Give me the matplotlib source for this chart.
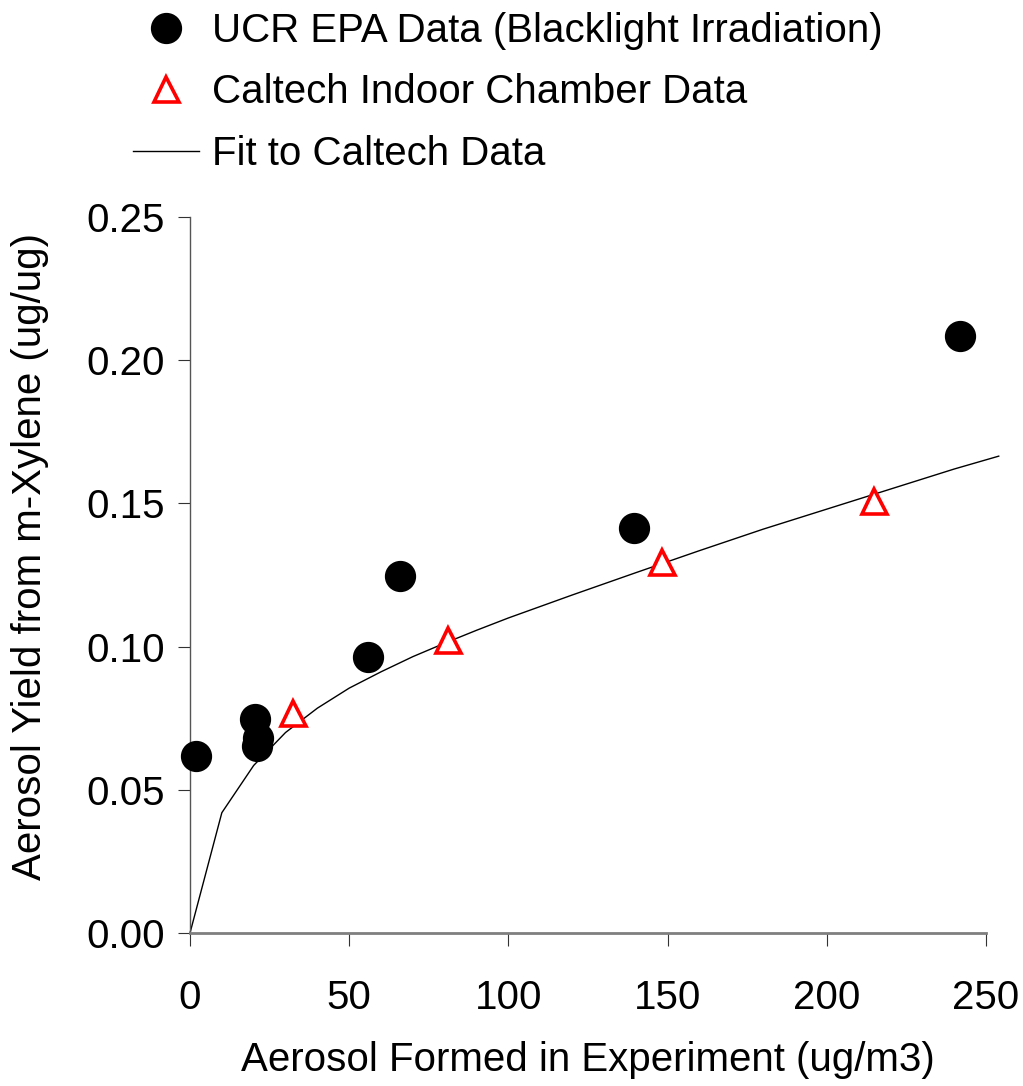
import numpy as np
import matplotlib
matplotlib.use("Agg")
import matplotlib.pyplot as plt
from matplotlib.ticker import FormatStrFormatter, MultipleLocator
from matplotlib.lines import Line2D

plt.rcParams['font.family'] = ['Liberation Sans', 'DejaVu Sans']

# UCR EPA chamber runs (blacklight irradiation)
ucr_mo = [1.9, 20.4, 21.4, 21.1, 56.0, 66.0, 139.6, 241.8]
ucr_yield = [0.0618, 0.0747, 0.0680, 0.0653, 0.0963, 0.1246, 0.1414, 0.2085]

# Caltech indoor chamber runs
ct_mo = [32.4, 81.1, 148.1, 214.8]
ct_yield = [0.0768, 0.1023, 0.1295, 0.1509]

# fitted yield curve to the Caltech data
fit_mo = [0, 10, 20, 30, 40, 50, 60, 70, 80, 90, 100, 120, 140, 160, 180, 200, 220, 240, 254]
fit_yield = [0.0, 0.0420, 0.0585, 0.0700, 0.0785, 0.0855, 0.0912, 0.0965, 0.1012,
             0.1057, 0.1100, 0.1180, 0.1258, 0.1335, 0.1410, 0.1480, 0.1550, 0.1620, 0.1665]

fig = plt.figure(figsize=(10.23, 10.86), dpi=100)
ax = fig.add_axes([190 / 1023, 153 / 1086, 796 / 1023, 716 / 1086])

ax.plot(fit_mo, fit_yield, color='black', lw=1.0, clip_on=False, zorder=2)
ax.plot(ucr_mo, ucr_yield, 'o', color='black', ms=21.5, clip_on=False, zorder=3)
ax.plot(ct_mo, ct_yield, '^', mfc='white', mec='red', mew=2.6, ms=18,
        clip_on=False, zorder=4)

ax.set_xlim(0, 250)
ax.set_ylim(0, 0.25)
ax.xaxis.set_major_locator(MultipleLocator(50))
ax.yaxis.set_major_locator(MultipleLocator(0.05))
ax.yaxis.set_major_formatter(FormatStrFormatter('%.2f'))

for s in ['top', 'right']:
    ax.spines[s].set_visible(False)
ax.spines['bottom'].set_color('#7f7f7f')
ax.spines['bottom'].set_linewidth(2.0)
ax.spines['left'].set_color('#555555')
ax.spines['left'].set_linewidth(1.0)

ax.tick_params(axis='x', direction='out', length=9, width=0.8, color='#333333',
               pad=24, labelsize=29)
ax.tick_params(axis='y', direction='out', length=9, width=0.8, color='#333333',
               pad=9, labelsize=29)

ax.set_xlabel('Aerosol Formed in Experiment (ug/m3)', fontsize=29)
ax.set_ylabel('Aerosol Yield from m-Xylene (ug/ug)', fontsize=29)
ax.xaxis.set_label_coords(0.5, -0.177)
ax.xaxis.label.set_va('center')
ax.yaxis.set_label_coords(-0.201, 0.5265)
ax.yaxis.label.set_va('center')

handles = [
    Line2D([], [], ls='none', marker='o', color='black', ms=21.5),
    Line2D([], [], ls='none', marker='^', mfc='white', mec='red', mew=2.6, ms=18),
    Line2D([], [], color='black', lw=1.0),
]
labels = ['UCR EPA Data (Blacklight Irradiation)',
          'Caltech Indoor Chamber Data',
          'Fit to Caltech Data']
fig.legend(handles, labels, loc='upper left', bbox_to_anchor=(133 / 1023, 1 - 12 / 1086),
           frameon=False, fontsize=29, handlelength=1.65, handletextpad=0.3,
           labelspacing=0.58, borderpad=0, borderaxespad=0)

fig.savefig('out.png', dpi=100)
